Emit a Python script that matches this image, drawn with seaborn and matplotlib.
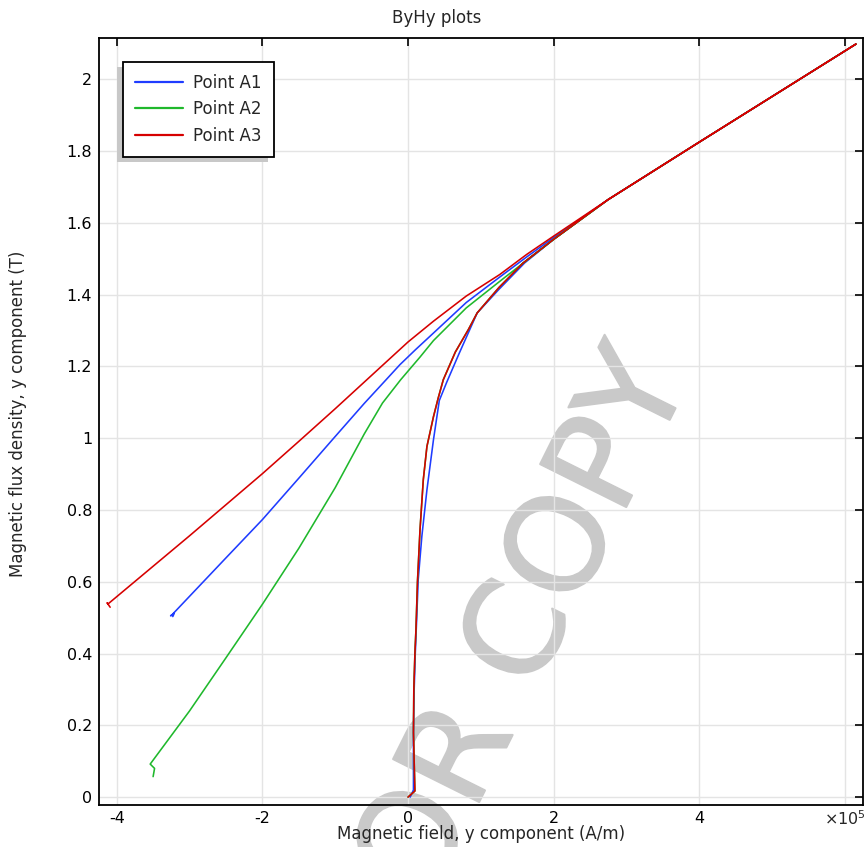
import numpy as np
import pandas as pd
import matplotlib
matplotlib.use("Agg")
import matplotlib.pyplot as plt
import matplotlib.patheffects as pe
import seaborn as sns
from matplotlib.patches import Rectangle

# ---------------- data (H in 1e5 A/m, B in T) ----------------
series_names = ["Point A1", "Point A2", "Point A3"]

# Point A1 (blue)
h_a1 = [0.03, 0.075, 0.075, 0.085, 0.10, 0.12, 0.14, 0.19, 0.26, 0.35, 0.43, 0.53, 0.70, 0.95,
        1.25, 1.60, 2.00, 2.75, 4.00, 6.15,
        4.00, 2.75, 2.00, 1.63, 1.26, 0.80, 0.35, 0.10, -0.11, -0.30, -0.60, -1.02, -1.48, -2.00,
        -2.53, -3.24, -3.26, -3.21, -3.23]
b_a1 = [0.00, 0.02, 0.18, 0.30, 0.40, 0.50, 0.605, 0.726, 0.856, 0.996, 1.105, 1.155, 1.235, 1.349,
        1.415, 1.488, 1.554, 1.665, 1.825, 2.098,
        1.825, 1.665, 1.559, 1.505, 1.449, 1.378, 1.293, 1.246, 1.205, 1.163, 1.097, 1.000, 0.893,
        0.773, 0.660, 0.508, 0.505, 0.512, 0.503]

# Point A2 (green)
h_a2 = [0.00, 0.095, 0.075, 0.08, 0.095, 0.11, 0.13, 0.165, 0.21, 0.26, 0.35, 0.415, 0.485, 0.65,
        0.83, 0.95, 1.25, 1.58, 2.00, 2.75, 4.00, 6.15,
        4.00, 2.75, 2.00, 1.26, 0.80, 0.35, 0.165, -0.10, -0.35, -0.60, -1.00, -1.50, -2.00,
        -2.50, -3.00, -3.54, -3.48, -3.50]
b_a2 = [0.00, 0.017, 0.18, 0.30, 0.40, 0.47, 0.60, 0.745, 0.884, 0.977, 1.06, 1.112, 1.163, 1.24,
        1.303, 1.349, 1.42, 1.488, 1.554, 1.665, 1.825, 2.098,
        1.825, 1.665, 1.554, 1.437, 1.363, 1.272, 1.226, 1.163, 1.098, 1.012, 0.862, 0.693, 0.537,
        0.388, 0.240, 0.092, 0.080, 0.057]

# Point A3 (red)
h_a3 = [0.00, 0.095, 0.075, 0.08, 0.095, 0.11, 0.13, 0.165, 0.21, 0.26, 0.35, 0.415, 0.485, 0.65,
        0.83, 0.95, 1.25, 1.58, 2.00, 2.75, 4.00, 6.15,
        4.00, 2.75, 2.00, 1.63, 1.26, 0.80, 0.35, 0.00, -0.50, -1.00, -1.50, -2.00, -3.00,
        -4.12, -4.13, -4.09]
b_a3 = [0.00, 0.017, 0.18, 0.30, 0.40, 0.47, 0.60, 0.745, 0.884, 0.977, 1.06, 1.112, 1.163, 1.24,
        1.303, 1.349, 1.42, 1.488, 1.554, 1.665, 1.825, 2.098,
        1.825, 1.665, 1.563, 1.512, 1.456, 1.396, 1.326, 1.268, 1.175, 1.082, 0.991, 0.901, 0.728,
        0.538, 0.541, 0.529]

x_ticks = [-4, -2, 0, 2, 4, 6]
x_tick_labels = ["-4", "-2", "0", "2", "4", ""]
y_ticks = [0, 0.2, 0.4, 0.6, 0.8, 1.0, 1.2, 1.4, 1.6, 1.8, 2.0]
y_tick_labels = ["0", "0.2", "0.4", "0.6", "0.8", "1", "1.2", "1.4", "1.6", "1.8", "2"]

colors = {"Point A1": "#1f3cff", "Point A2": "#1fb82c", "Point A3": "#d60000"}

frames = []
for name, h, b in zip(series_names, [h_a1, h_a2, h_a3], [b_a1, b_a2, b_a3]):
    frames.append(pd.DataFrame({"H": h, "B": b, "series": name}))
df = pd.concat(frames, ignore_index=True)

# ---------------- figure ----------------
sns.set_style("white")
plt.rcParams["font.family"] = ["DejaVu Sans"]

W, H = 867, 847
fig = plt.figure(figsize=(W / 100, H / 100), dpi=100)
ax = fig.add_axes([99 / W, 1 - 805 / H, (863 - 99) / W, (805 - 38) / H])
ax.patch.set_alpha(0)

# watermark (behind everything)
fig.text(542 / W, 1 - 676 / H, "FOR COPY", rotation=63.5, rotation_mode="anchor",
         ha="center", va="baseline", fontsize=95, color="#c9c9c9", zorder=-5,
         path_effects=[pe.withStroke(linewidth=1.5, foreground="#c9c9c9")])

for name in series_names:
    sub = df[df["series"] == name]
    sns.lineplot(data=sub, x="H", y="B", sort=False, estimator=None, color=colors[name],
                 linewidth=1.15, ax=ax, label=name)

ax.set_xlim(-4.243, 6.248)
ax.set_ylim(-0.022, 2.115)
ax.set_xticks(x_ticks)
ax.set_xticklabels(x_tick_labels)
ax.set_yticks(y_ticks)
ax.set_yticklabels(y_tick_labels)
ax.set_xlabel("")
ax.set_ylabel("")
ax.grid(True, color="#e4e4e4", linewidth=1.0)
ax.set_axisbelow(True)
for s in ax.spines.values():
    s.set_visible(True)
    s.set_color("black")
    s.set_linewidth(1.3)
ax.tick_params(axis="both", which="both", direction="in", length=6, width=1.2,
               top=True, right=True, labelsize=11.5, colors="black")
ax.tick_params(axis="x", pad=4)
ax.tick_params(axis="y", pad=5)

fig.text(866 / W, 1 - 819 / H, r"$\times10^5$", ha="right", va="center", fontsize=11.5)
fig.text(437 / W, 1 - 18 / H, "ByHy plots", ha="center", va="center", fontsize=12)
fig.text(481 / W, 1 - 834 / H, "Magnetic field, y component (A/m)", ha="center", va="center",
         fontsize=12)
fig.text(18 / W, 1 - 414 / H, "Magnetic flux density, y component (T)", ha="center",
         va="center", rotation=90, fontsize=12)

leg = ax.legend(loc="upper left", bbox_to_anchor=((123 - 99) / 764, (805 - 62) / 767),
                borderaxespad=0, frameon=True, fancybox=False, framealpha=1,
                edgecolor="black", fontsize=12, borderpad=0.72, labelspacing=0.5,
                handlelength=2.85, handletextpad=0.65)
leg.get_frame().set_linewidth(1.3)
for lh in leg.get_lines():
    lh.set_linewidth(1.6)

fig.canvas.draw()
bb = leg.get_window_extent()
inv = ax.transAxes.inverted()
(x0, y0) = inv.transform((bb.x0 - 6, bb.y0 - 5))
(x1, y1) = inv.transform((bb.x1 - 6, bb.y1 - 5))
ax.add_patch(Rectangle((x0, y0), x1 - x0, y1 - y0, transform=ax.transAxes,
                       facecolor="#c8c8c8", edgecolor="none", zorder=4.5))

fig.savefig("out.png", dpi=100)
